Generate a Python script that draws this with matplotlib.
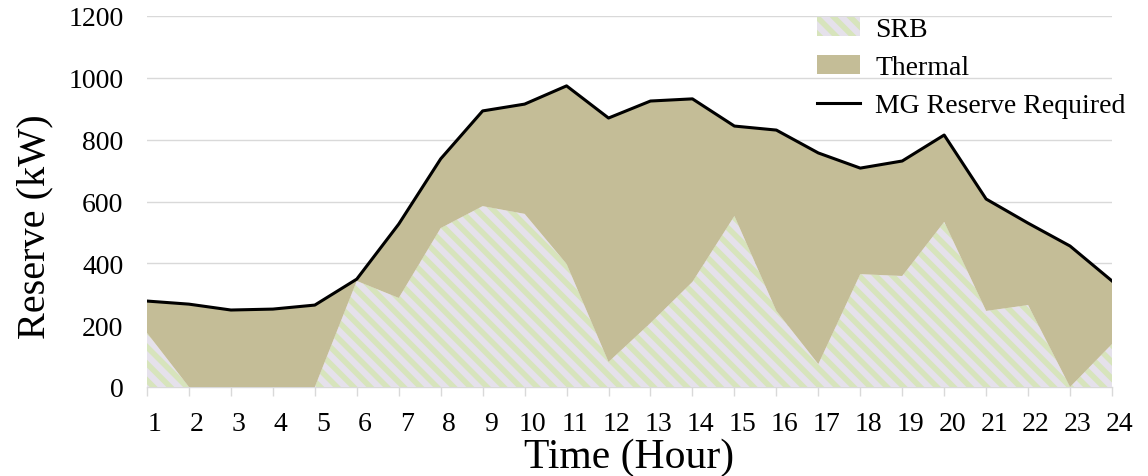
import numpy as np
import matplotlib.pyplot as plt
import matplotlib.transforms as mtransforms
from matplotlib.patches import Patch
from matplotlib.lines import Line2D

plt.rcParams['font.family'] = ['Liberation Serif', 'DejaVu Serif']
plt.rcParams['hatch.linewidth'] = 4

hours = list(range(1, 25))
# MG reserve required (kW) = SRB + Thermal
required = [278, 268, 249, 252, 265, 349, 527, 738, 893, 915, 974, 870,
            925, 932, 844, 831, 757, 708, 731, 815, 608, 530, 456, 343]
srb = [175, 0, 0, 0, 0, 343, 288, 514, 585, 560, 398, 81,
       207, 340, 553, 246, 74, 365, 359, 534, 246, 265, 0, 139]
thermal = [r - s for r, s in zip(required, srb)]

x = np.array(hours)
srb_arr = np.array(srb)
top = srb_arr + np.array(thermal)

fig = plt.figure(figsize=(11.48, 4.77), dpi=100)
ax = fig.add_axes([147/1148, 1 - 388/477, (1112 - 147)/1148, (388 - 17)/477])

green = '#d7e4bc'
khaki = '#c4bd97'
grid_c = '#d9d9d9'

ax.fill_between(x, 0, srb_arr, facecolor='#e5e1eb', edgecolor=green,
                hatch='\\\\', linewidth=0, zorder=2)
ax.fill_between(x, srb_arr, top, facecolor=khaki, linewidth=0, zorder=2)
ax.plot(x, required, color='black', lw=2.2, zorder=3)

ax.set_xlim(1, 24)
ax.set_ylim(0, 1200)
ax.set_yticks(range(0, 1201, 200))
ax.set_xticks(hours)
ax.set_xticklabels([str(h) for h in hours])

ax.yaxis.grid(True, color=grid_c, lw=1, zorder=0)
ax.set_axisbelow(True)
for s in ['top', 'right', 'left']:
    ax.spines[s].set_visible(False)
ax.spines['bottom'].set_color(grid_c)
ax.spines['bottom'].set_linewidth(1)
ax.spines['bottom'].set_zorder(1)

ax.tick_params(axis='y', length=0, pad=17, labelsize=20)
ax.tick_params(axis='x', length=6.5, color=grid_c, width=1, pad=11, labelsize=20)

offset = mtransforms.ScaledTranslation(8/100, 0, fig.dpi_scale_trans)
for lab in ax.get_xticklabels():
    lab.set_transform(lab.get_transform() + offset)

ax.set_xlabel('Time (Hour)', fontsize=30)
ax.xaxis.set_label_coords(0.5, -(458 - 388)/371, transform=ax.transAxes)
ax.xaxis.label.set_va('center')
ax.set_ylabel('Reserve (kW)', fontsize=29)
ax.yaxis.set_label_coords(-(147 - 35)/965, (388 - 227)/371, transform=ax.transAxes)
ax.yaxis.label.set_va('center')

handles = [Patch(facecolor='#e5e1eb', edgecolor=green, hatch='\\\\', linewidth=0, label='SRB'),
           Patch(facecolor=khaki, linewidth=0, label='Thermal'),
           Line2D([], [], color='black', lw=2.2, label='MG Reserve Required')]
fig.legend(handles=handles, loc='upper left', bbox_to_anchor=(817/1148, 1 - 18/477),
           frameon=False, fontsize=20, borderpad=0, handlelength=1.55,
           handletextpad=0.55, labelspacing=0.45, borderaxespad=0)

fig.savefig('out.png', dpi=100)
